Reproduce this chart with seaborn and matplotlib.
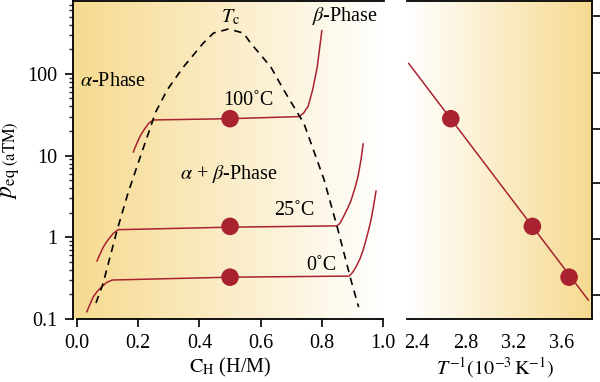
import numpy as np
import pandas as pd
import matplotlib
matplotlib.use("Agg")
import matplotlib.pyplot as plt
import seaborn as sns
from matplotlib.colors import LinearSegmentedColormap
from matplotlib.ticker import FixedLocator, LogLocator, NullFormatter, FixedFormatter

# isotherms p(C_H)
iso100_c = [0.184, 0.195, 0.207, 0.22, 0.235, 0.25, 0.5, 0.725, 0.74, 0.755, 0.77, 0.785, 0.80]
iso100_p = [11, 14, 17.5, 21, 25, 27.3, 28.3, 30, 33, 40, 64, 122, 340]
iso25_c = [0.065, 0.075, 0.086, 0.097, 0.108, 0.12, 0.135, 0.5, 0.85, 0.86, 0.873,
           0.885, 0.895, 0.908, 0.918, 0.928, 0.935]
iso25_p = [0.51, 0.62, 0.76, 0.88, 1.0, 1.13, 1.24, 1.33, 1.38, 1.5, 1.86,
           2.3, 2.8, 4.0, 5.5, 9.0, 14]
iso0_c = [0.032, 0.042, 0.053, 0.067, 0.082, 0.097, 0.115, 0.5, 0.889, 0.90, 0.911,
          0.925, 0.935, 0.944, 0.952, 0.96, 0.968, 0.977]
iso0_p = [0.122, 0.15, 0.186, 0.22, 0.25, 0.28, 0.30, 0.325, 0.335, 0.37, 0.43,
          0.55, 0.70, 0.92, 1.2, 1.6, 2.3, 3.7]

# miscibility gap (dashed dome)
dome_c = [0.062, 0.085, 0.131, 0.167, 0.207, 0.243, 0.256, 0.295, 0.348, 0.413, 0.446,
          0.495, 0.544, 0.567, 0.633, 0.675, 0.72, 0.741, 0.807, 0.853, 0.895, 0.92]
dome_p = [0.157, 0.27, 1.22, 3.5, 9.7, 23.9, 33.5, 64, 122, 239, 316,
          354, 316, 239, 122, 64, 33.5, 25, 5.1, 1.22, 0.30, 0.14]

# plateau pressures at C_H = 0.5
plateau_c = [0.5, 0.5, 0.5]
plateau_p = [28.3, 1.36, 0.325]
plateau_lbl = ["100˚C", "25˚C", "0˚C"]

# van 't Hoff panel
inv_T = [2.68, 3.356, 3.66]
fit_x = [2.33, 3.82]
fit_p = [135, 0.17]

left_xticks = [0.0, 0.2, 0.4, 0.6, 0.8, 1.0]
right_xticks = [2.4, 2.8, 3.2, 3.6]
y_major = [0.1, 1, 10, 100]
y_major_lbl = ["0.1", "1", "10", "100"]
right_yticks = [0.196, 0.945, 4.56, 21.3, 103, 510]

red = "#A8232F"
yellow = "#F6DA90"

sns.set_theme(style="ticks")
plt.rcParams["font.family"] = ["Liberation Serif", "DejaVu Serif"]
plt.rcParams["mathtext.fontset"] = "stix"
plt.rcParams["axes.linewidth"] = 1.3
plt.rcParams["text.color"] = "black"
plt.rcParams["axes.labelcolor"] = "black"

fig = plt.figure(figsize=(6, 3.82), dpi=100)
ax = fig.add_axes([73 / 600, 63 / 382, 311 / 600, 318 / 382])
ax2 = fig.add_axes([407 / 600, 63 / 382, 185 / 600, 318 / 382])

grad = np.linspace(0, 1, 256).reshape(1, -1)
ax.imshow(grad, cmap=LinearSegmentedColormap.from_list("l", [yellow, "#FFFFFF"]),
          extent=[0, 1, 0, 1], transform=ax.transAxes, aspect="auto", zorder=0)
ax2.imshow(grad, cmap=LinearSegmentedColormap.from_list("r", ["#FFFFFF", yellow]),
           extent=[0, 1, 0, 1], transform=ax2.transAxes, aspect="auto", zorder=0)

# left panel
for c, p in [(iso100_c, iso100_p), (iso25_c, iso25_p), (iso0_c, iso0_p)]:
    sns.lineplot(x=c, y=p, ax=ax, sort=False, estimator=None, color=red, lw=1.1, zorder=2)
sns.lineplot(x=dome_c, y=dome_p, ax=ax, sort=False, estimator=None, color="black",
             lw=1.2, linestyle=(0, (4.5, 3.5)), zorder=2)
sns.scatterplot(x=plateau_c, y=plateau_p, ax=ax, color=red, s=160, edgecolor="none", zorder=3)

ax.set_yscale("log")
ax.set_xlim(-0.013, 1.003)
ax.set_ylim(0.1, 780)
ax.yaxis.set_major_locator(FixedLocator(y_major))
ax.yaxis.set_major_formatter(FixedFormatter(y_major_lbl))
ax.yaxis.set_minor_locator(LogLocator(base=10, subs=np.arange(2, 10)))
ax.yaxis.set_minor_formatter(NullFormatter())
ax.set_xticks(left_xticks)
ax.set_xticklabels([f"{v:.1f}" for v in left_xticks])
ax.tick_params(axis="both", which="major", direction="out", length=6, width=1.2,
               labelsize=14.5, colors="black", pad=5)
ax.tick_params(axis="y", which="minor", direction="out", length=3, width=1.0)
ax.spines["right"].set_visible(False)
ax.spines["bottom"].set_bounds(0, 1)
ax.set_facecolor("none")

ax.set_xlabel(r"$\mathrm{C_H}$ (H/M)", fontsize=14.5)
ax.xaxis.set_label_coords(0.505, -0.115)
ax.set_ylabel(r"$p_{\mathrm{eq}\ (\mathrm{aTM})}$", fontsize=17)
ax.yaxis.set_label_coords(-0.165, 0.5)

fs = 14.5
ax.text(0.01, 80, r"$\alpha$-Phase", fontsize=fs, va="center", ha="left")
ax.text(0.5, 495, r"$T_{\mathrm{c}}$", fontsize=fs, va="center", ha="center")
ax.text(0.767, 510, r"$\beta$-Phase", fontsize=fs, va="center", ha="left")
ax.text(0.335, 6.0, r"$\alpha$ + $\beta$-Phase", fontsize=fs, va="center", ha="left")
ax.text(0.56, 47, plateau_lbl[0], fontsize=fs, va="center", ha="center")
ax.text(0.71, 2.13, plateau_lbl[1], fontsize=fs, va="center", ha="center")
ax.text(0.80, 0.455, plateau_lbl[2], fontsize=fs, va="center", ha="center")

# right panel
sns.lineplot(x=fit_x, y=fit_p, ax=ax2, sort=False, estimator=None, color=red, lw=1.1, zorder=2)
sns.scatterplot(x=inv_T, y=plateau_p, ax=ax2, color=red, s=160, edgecolor="none", zorder=3)
ax2.set_yscale("log")
ax2.set_xlim(2.317, 3.85)
ax2.set_ylim(0.1, 780)
ax2.yaxis.set_major_locator(FixedLocator(right_yticks))
ax2.yaxis.set_minor_locator(FixedLocator([]))
ax2.yaxis.set_major_formatter(NullFormatter())
ax2.set_xticks(right_xticks)
ax2.set_xticklabels([f"{v:.1f}" for v in right_xticks])
ax2.tick_params(axis="x", length=0, labelsize=14.5, colors="black", pad=11)
ax2.tick_params(axis="y", left=False, right=True, labelleft=False, labelright=False,
                direction="out", length=6, width=1.2, colors="black")
ax2.spines["left"].set_visible(False)
ax2.set_facecolor("none")
ax2.set_xlabel(r"$T^{-1}(10^{-3}\,\mathrm{K}^{-1})$", fontsize=14.5)
ax2.xaxis.set_label_coords(0.476, -0.115)
ax2.set_ylabel("")

for a in (ax, ax2):
    for s in a.spines.values():
        s.set_color("black")

fig.savefig("out.png", dpi=100, facecolor="white")
